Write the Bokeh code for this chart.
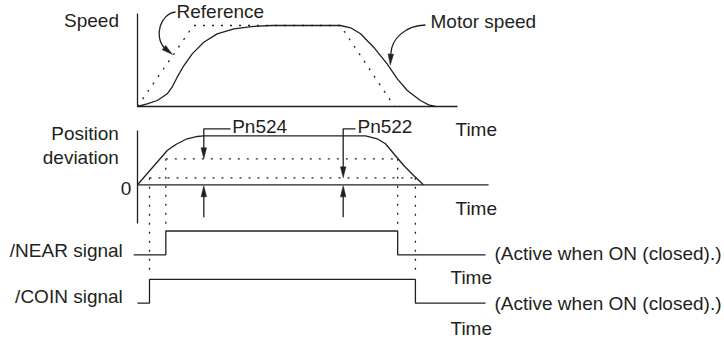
from math import hypot
from bokeh.plotting import figure
from bokeh.models import Range1d
from bokeh.core.properties import value
from bokeh.embed import file_html
from bokeh.resources import INLINE

# ---------------- data (time in arbitrary units, values normalised) ----------------
time_reference = [0, 17.5, 63.4, 80.3]
speed_reference = [0, 1.0, 1.0, 0]

time_motor = [0, 3.0, 6.2, 9.3, 10.8, 12.4, 14.5, 17.1, 20.7, 24.9, 30.1, 36.3, 42.0,
              63.4, 66.6, 69.7, 73.8, 78.0, 81.2, 84.3, 88.4, 91.0, 93.1]
speed_motor = [0, 0.033, 0.074, 0.157, 0.238, 0.362, 0.506, 0.65, 0.794, 0.897, 0.959, 0.988, 1.0,
               1.0, 0.972, 0.898, 0.732, 0.527, 0.342, 0.198, 0.074, 0.02, 0]

time_deviation = [0, 9.3, 11.0, 12.4, 15.5, 18.7, 20.7, 71.25, 74.9, 77.5, 80.1, 83.2, 86.3, 89.0, 89.4]
position_deviation = [0, 0.70, 0.78, 0.837, 0.939, 0.986, 1.0, 1.0, 0.939, 0.837, 0.633, 0.394, 0.190, 0.020, 0]

pn524_near_width = 0.531
pn522_coin_width = 0.143

time_near = [-1.2, 8.85, 8.85, 81.3, 81.3, 108.75]
state_near = [0, 0, 1, 1, 0, 0]
time_coin = [0, 3.75, 3.75, 86.85, 86.85, 108.75]
state_coin = [0, 0, 1, 1, 0, 0]

speed_axis_end = 100
position_axis_end = 109.7

label_speed = "Speed"
label_reference = "Reference"
label_motor = "Motor speed"
label_time = "Time"
label_position = ["Position", "deviation"]
label_zero = "0"
label_pn524 = "Pn524"
label_pn522 = "Pn522"
label_near = "/NEAR signal"
label_coin = "/COIN signal"
label_active = "(Active when ON (closed).)"

# ---------------- layout ----------------
INK = "#231f20"
FONT = value("Liberation Sans")
FS = "19px"
LW = 1.3
DOT = "2 7"
TEXT_DY = -7.5

X0, XS = 137, 3.2
def X(ts):
    return [X0 + XS * t for t in ts]

SPEED_ZERO, SPEED_UNIT = 106, 81
POS_ZERO, POS_UNIT = 184.3, 49
NEAR_LOW, COIN_LOW, SIG_H = 254.3, 302.7, 23.8

def SY(vs):
    return [SPEED_ZERO - SPEED_UNIT * v for v in vs]
def PY(vs):
    return [POS_ZERO - POS_UNIT * v for v in vs]
def NY(vs):
    return [NEAR_LOW - SIG_H * v for v in vs]
def CY(vs):
    return [COIN_LOW - SIG_H * v for v in vs]

def head(tip, d, L=11.0, W=5.5):
    tx, ty = tip
    n = hypot(*d)
    ux, uy = d[0] / n, d[1] / n
    px, py = -uy, ux
    bx, by = tx - ux * L, ty - uy * L
    return [tx, bx + px * W / 2, bx - px * W / 2], [ty, by + py * W / 2, by - py * W / 2]

p = figure(width=724, height=343, output_backend="svg", toolbar_location=None,
           x_range=Range1d(0, 724), y_range=Range1d(343, 0), min_border=0)
p.axis.visible = False
p.grid.visible = False
p.outline_line_color = None
p.background_fill_color = "white"
p.border_fill_color = "white"

# ----- speed panel -----
p.line([X0, X0], SY([0, 1.148]), line_color=INK, line_width=LW)
p.line(X([0, speed_axis_end]), SY([0, 0]), line_color=INK, line_width=LW)
p.line(X(time_reference), SY(speed_reference), line_color=INK, line_width=LW, line_dash=DOT)
p.line(X(time_motor), SY(speed_motor), line_color=INK, line_width=LW)

# ----- position deviation panel -----
p.line([X0, X0], PY([1.108, -0.79]), line_color=INK, line_width=LW)
p.line(X([0, position_axis_end]), PY([0, 0]), line_color=INK, line_width=LW)
p.line(X(time_deviation), PY(position_deviation), line_color=INK, line_width=LW)

near_on, near_off = time_near[1], time_near[3]
coin_on, coin_off = time_coin[1], time_coin[3]
p.line(X([near_on, near_off]), PY([pn524_near_width] * 2), line_color=INK, line_width=LW, line_dash=DOT)
p.line(X([coin_on, coin_off + 0.5]), PY([pn522_coin_width] * 2), line_color=INK, line_width=LW, line_dash=DOT)

# vertical dotted guides down to the signals
for t in (near_on, near_off):
    p.line(X([t, t]), [PY([pn524_near_width])[0], NY([1])[0] - 4], line_color=INK, line_width=LW, line_dash=DOT)
for t in (coin_on, coin_off):
    p.line(X([t, t]), [PY([pn522_coin_width])[0], CY([1])[0] - 4], line_color=INK, line_width=LW, line_dash=DOT)

# ----- signals -----
p.line(X(time_near), NY(state_near), line_color=INK, line_width=LW)
p.line(X(time_coin), CY(state_coin), line_color=INK, line_width=LW)

# ----- arrows -----
heads_x, heads_y = [], []
BRACKET_Y = 128.3
for xa, level, bx in ((203.3, pn524_near_width, 230), (342.7, pn522_coin_width, 355)):
    tip_down = PY([level])[0]
    p.line([bx, xa, xa], [BRACKET_Y, BRACKET_Y, tip_down - 10], line_color=INK, line_width=LW)
    hx, hy = head((xa, tip_down), (0, 1)); heads_x.append(hx); heads_y.append(hy)
    tip_up = POS_ZERO + 1
    p.line([xa, xa], [216.7, tip_up + 10], line_color=INK, line_width=LW)
    hx, hy = head((xa, tip_up), (0, -1)); heads_x.append(hx); heads_y.append(hy)

# curved callouts
p.bezier(x0=[175, 425], y0=[11.5, 24.5], x1=[164, 390.3], y1=[47.5, 53.5],
         cx0=[160, 405], cy0=[13, 25], cx1=[153, 391], cy1=[36, 38],
         line_color=INK, line_width=LW)
hx, hy = head((172, 54), (0.8, 0.65)); heads_x.append(hx); heads_y.append(hy)
hx, hy = head((389.8, 64.5), (-0.05, 1)); heads_x.append(hx); heads_y.append(hy)
p.patches(heads_x, heads_y, fill_color=INK, line_color=INK, line_width=0.5)

# ----- texts -----
def txt(xs, ys, texts, align):
    p.text(x=xs, y=[y + TEXT_DY for y in ys], text=texts, text_font=FONT, text_font_size=FS,
           text_color=INK, text_align=align, text_baseline="alphabetic")

txt([118.5, 118.3, 118.3, 130.7, 122.3, 122.3],
    [27.5, 140, 164.5, 195.5, 257.5, 303.5],
    [label_speed, label_position[0], label_position[1], label_zero, label_near, label_coin], "right")
txt([176, 430, 455, 455, 231.7, 357, 494, 494, 450, 450],
    [18.5, 28.5, 136, 215, 133.5, 133.5, 260.5, 310.5, 284, 335.5],
    [label_reference, label_motor, label_time, label_time, label_pn524, label_pn522,
     label_active, label_active, label_time, label_time], "left")

open("out.html", "w").write(file_html(p, INLINE))
